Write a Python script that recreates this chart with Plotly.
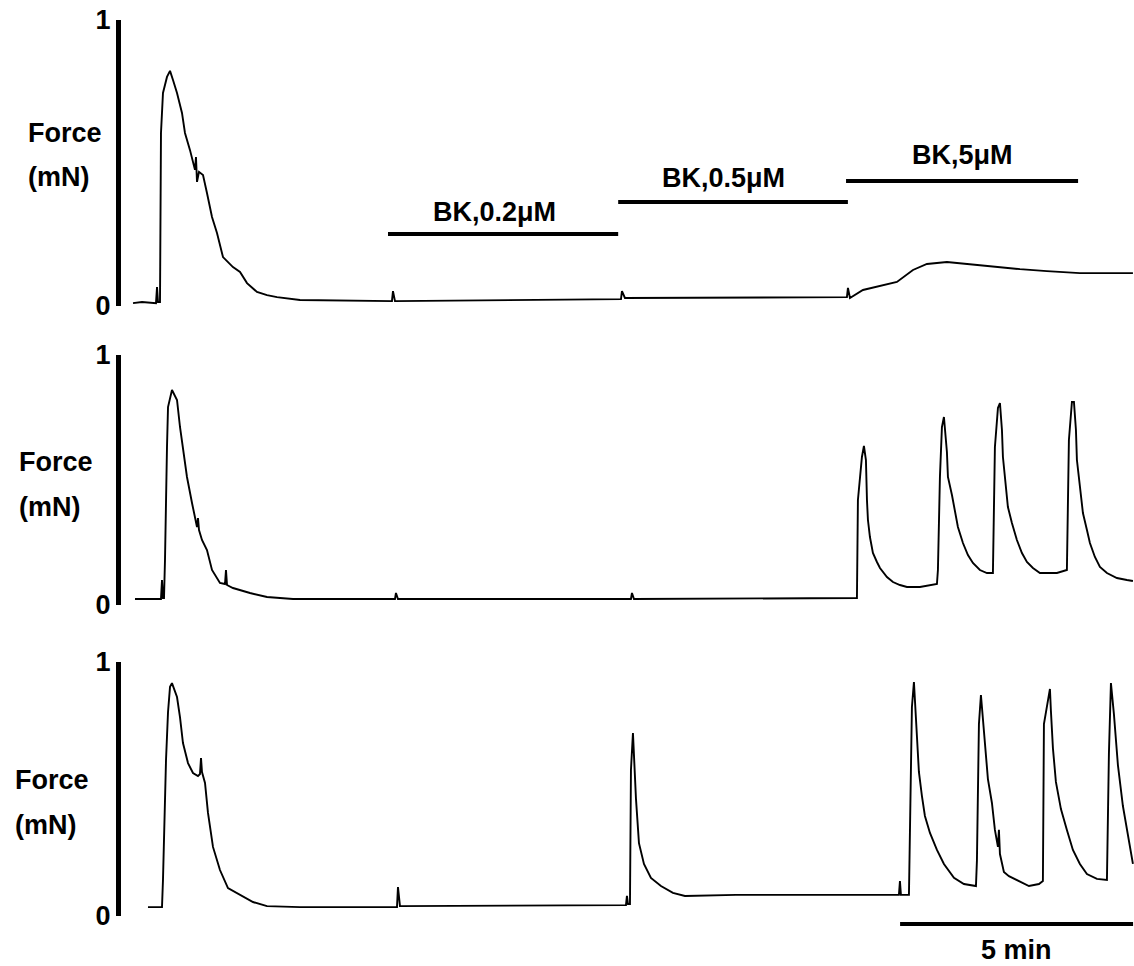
import plotly.graph_objects as go

# ---------------- data (time in min, force in mN) ----------------
t1 = [0.258, 0.451, 0.751, 0.773, 0.794, 0.837, 0.858, 0.901, 0.987, 1.052, 1.116, 1.202,
      1.309, 1.373, 1.481, 1.545, 1.588, 1.609, 1.631, 1.674, 1.760, 1.845, 1.953, 2.060,
      2.189, 2.403, 2.554, 2.704, 2.918, 3.133, 3.348, 3.841, 5.815, 5.837, 5.880, 10.730,
      10.751, 10.815, 15.579, 15.601, 15.644, 15.923, 16.288, 16.652, 16.996, 17.296,
      17.725, 18.155, 18.712, 19.292, 19.871, 20.579, 21.717]
f1 = [0.010, 0.014, 0.010, 0.066, 0.014, 0.014, 0.605, 0.745, 0.801, 0.822, 0.790, 0.745,
      0.675, 0.605, 0.545, 0.500, 0.476, 0.521, 0.434, 0.469, 0.458, 0.395, 0.311, 0.255,
      0.171, 0.136, 0.119, 0.080, 0.049, 0.038, 0.031, 0.021, 0.017, 0.052, 0.017, 0.024,
      0.052, 0.028, 0.031, 0.063, 0.028, 0.056, 0.070, 0.084, 0.126, 0.147,
      0.154, 0.147, 0.136, 0.129, 0.122, 0.115, 0.115]

t2 = [0.300, 0.858, 0.880, 0.901, 0.923, 0.944, 0.987, 1.009, 1.094, 1.202, 1.266, 1.330,
      1.416, 1.524, 1.631, 1.652, 1.674, 1.738, 1.845, 1.953, 2.124, 2.232, 2.253, 2.275,
      2.403, 2.768, 3.133, 3.691, 5.880, 5.901, 5.944, 10.944, 10.966, 11.009,
      15.794, 15.815, 15.901, 15.944, 15.987, 16.009, 16.030, 16.073, 16.116, 16.137,
      16.223, 16.288, 16.438, 16.567, 16.717, 16.867, 17.146, 17.361, 17.511, 17.532,
      17.575, 17.618, 17.661, 17.725, 17.747, 17.833, 17.897, 17.961, 18.069, 18.176,
      18.283, 18.433, 18.584, 18.712, 18.755, 18.820, 18.863, 18.906, 18.927, 18.970,
      19.034, 19.120, 19.227, 19.335, 19.442, 19.571, 19.721, 20.086, 20.300, 20.343,
      20.408, 20.451, 20.494, 20.515, 20.579, 20.644, 20.730, 20.794, 20.901, 21.009,
      21.159, 21.373, 21.588, 21.717]
f2 = [0.024, 0.024, 0.100, 0.028, 0.028, 0.180, 0.632, 0.792, 0.860, 0.820, 0.712, 0.620,
      0.512, 0.408, 0.312, 0.348, 0.300, 0.260, 0.220, 0.140, 0.088, 0.084, 0.140, 0.080,
      0.068, 0.048, 0.032, 0.024, 0.024, 0.048, 0.024, 0.024, 0.048, 0.024,
      0.028, 0.420, 0.592, 0.636, 0.580, 0.420, 0.340, 0.272, 0.232, 0.208,
      0.172, 0.148, 0.112, 0.092, 0.080, 0.072, 0.072, 0.080, 0.084, 0.140,
      0.512, 0.712, 0.752, 0.612, 0.512, 0.440, 0.368, 0.312, 0.248, 0.200,
      0.168, 0.140, 0.128, 0.128, 0.632, 0.788, 0.808, 0.700, 0.592, 0.500,
      0.392, 0.328, 0.260, 0.208, 0.172, 0.148, 0.128, 0.128, 0.140, 0.660,
      0.812, 0.812, 0.700, 0.580, 0.460, 0.368, 0.300, 0.248, 0.192, 0.152,
      0.128, 0.108, 0.100, 0.096]

t3 = [0.579, 0.880, 0.901, 0.966, 1.009, 1.052, 1.094, 1.202, 1.266, 1.330, 1.438, 1.545,
      1.652, 1.695, 1.717, 1.738, 1.803, 1.867, 1.974, 2.124, 2.296, 2.554, 2.833, 3.133,
      3.841, 5.923, 5.944, 5.987, 10.279, 10.837, 10.858, 10.880, 10.923, 10.944, 10.987,
      11.052, 11.116, 11.223, 11.373, 11.588, 11.845, 12.103, 13.197, 14.657, 16.695,
      16.717, 16.738, 16.910, 16.931, 16.974, 17.017, 17.082, 17.124, 17.189, 17.253,
      17.361, 17.511, 17.661, 17.876, 18.090, 18.348, 18.369, 18.412, 18.455, 18.541,
      18.605, 18.691, 18.755, 18.820, 18.841, 18.863, 18.948, 19.056, 19.270, 19.485,
      19.700, 19.785, 19.807, 19.936, 19.957, 20.000, 20.064, 20.172, 20.300, 20.429,
      20.579, 20.730, 20.944, 21.159, 21.202, 21.245, 21.309, 21.395, 21.502, 21.609,
      21.717]
f3 = [0.035, 0.035, 0.142, 0.614, 0.803, 0.902, 0.917, 0.862, 0.783, 0.681, 0.602, 0.563,
      0.551, 0.559, 0.622, 0.567, 0.524, 0.406, 0.272, 0.181, 0.110, 0.083, 0.055, 0.039,
      0.035, 0.035, 0.114, 0.039, 0.043, 0.043, 0.079, 0.047, 0.047, 0.575, 0.720,
      0.461, 0.287, 0.205, 0.150, 0.118, 0.091, 0.079, 0.083, 0.083, 0.083,
      0.138, 0.083, 0.083, 0.287, 0.823, 0.921, 0.717, 0.567, 0.472, 0.394,
      0.327, 0.260, 0.205, 0.150, 0.126, 0.118, 0.217, 0.756, 0.870, 0.689,
      0.539, 0.445, 0.339, 0.272, 0.339, 0.244, 0.173, 0.157, 0.138, 0.118,
      0.126, 0.138, 0.756, 0.894, 0.807, 0.661, 0.528, 0.421, 0.339, 0.260,
      0.205, 0.165, 0.146, 0.142, 0.642, 0.917, 0.795, 0.594, 0.433, 0.311,
      0.205]

bk_labels = ["BK,0.2\u03bcM", "BK,0.5\u03bcM", "BK,5\u03bcM"]
bk_start = [5.73, 10.67, 15.56]
bk_end = [10.67, 15.60, 20.54]

scale_bar_start = 16.72
scale_bar_len = 5
scale_bar_label = "5 min"

y_tickvals = [0, 1]
y_ticktext = ["0", "1"]
y_title = ["Force", "(mN)"]
x_range = [0, 21.74]

# ---------------- layout helpers ----------------
W, H = 1134, 966


def py(p):
    return 1 - p / H


def px(p):
    return p / W


FONT = "Liberation Sans, Arial, sans-serif"
x_dom = [px(121), 1.0]
y_doms = [[py(306), py(20)], [py(605), py(355)], [py(916), py(662)]]

fig = go.Figure()
series = [(t1, f1), (t2, f2), (t3, f3)]
for i, (t, f) in enumerate(series):
    sfx = "" if i == 0 else str(i + 1)
    fig.add_trace(go.Scatter(x=t, y=f, mode="lines", xaxis="x" + sfx, yaxis="y" + sfx,
                             line=dict(color="black", width=1.9), showlegend=False,
                             hoverinfo="skip"))

axes = {}
for i in range(3):
    sfx = "" if i == 0 else str(i + 1)
    axes["xaxis" + sfx] = dict(domain=x_dom, range=x_range, visible=False,
                               anchor="y" + sfx, automargin=False)
    axes["yaxis" + sfx] = dict(domain=y_doms[i], range=[0, 1], anchor="x" + sfx,
                               automargin=False,
                               showline=True, linecolor="black", linewidth=5,
                               ticks="inside", tickvals=y_tickvals, ticktext=y_ticktext,
                               ticklen=10, tickwidth=4, tickcolor="black",
                               showgrid=False, zeroline=False,
                               tickfont=dict(family=FONT, size=27, color="black",
                                             weight="bold"))
fig.update_layout(**axes)

shapes = []
annotations = []
bar_y = [234, 202, 181]
lab_y = [212, 178, 155]
lab_shift = [-9, -10, 0]
for i in range(3):
    shapes.append(dict(type="line", xref="x", yref="paper", x0=bk_start[i], x1=bk_end[i],
                       y0=py(bar_y[i]), y1=py(bar_y[i]),
                       line=dict(color="black", width=4)))
    annotations.append(dict(text=bk_labels[i], xref="x", yref="paper",
                            x=(bk_start[i] + bk_end[i]) / 2, xshift=lab_shift[i],
                            y=py(lab_y[i]), xanchor="center", yanchor="middle",
                            showarrow=False,
                            font=dict(family=FONT, size=27, color="black", weight="bold")))

# time scale bar
shapes.append(dict(type="line", xref="x3", yref="paper", x0=scale_bar_start,
                   x1=scale_bar_start + scale_bar_len, y0=py(924), y1=py(924),
                   line=dict(color="black", width=4)))
annotations.append(dict(text=scale_bar_label, xref="x3", yref="paper",
                        x=scale_bar_start + scale_bar_len / 2, y=py(950),
                        xanchor="center", yanchor="middle", showarrow=False,
                        font=dict(family=FONT, size=27, color="black", weight="bold")))

# Force (mN) labels
label_pos = [(26, 133, 177), (17, 462, 507), (13, 780, 825)]
for (lx, y_a, y_b) in label_pos:
    for txt, yy in zip(y_title, (y_a, y_b)):
        annotations.append(dict(text=txt, xref="paper", yref="paper", x=px(lx), y=py(yy),
                                xanchor="left", yanchor="middle", showarrow=False,
                                font=dict(family=FONT, size=27, color="black",
                                          weight="bold")))

fig.update_layout(width=W, height=H, margin=dict(l=0, r=0, t=0, b=0, autoexpand=False),
                  paper_bgcolor="white", plot_bgcolor="white",
                  shapes=shapes, annotations=annotations, showlegend=False)

fig.write_html("out.html")
